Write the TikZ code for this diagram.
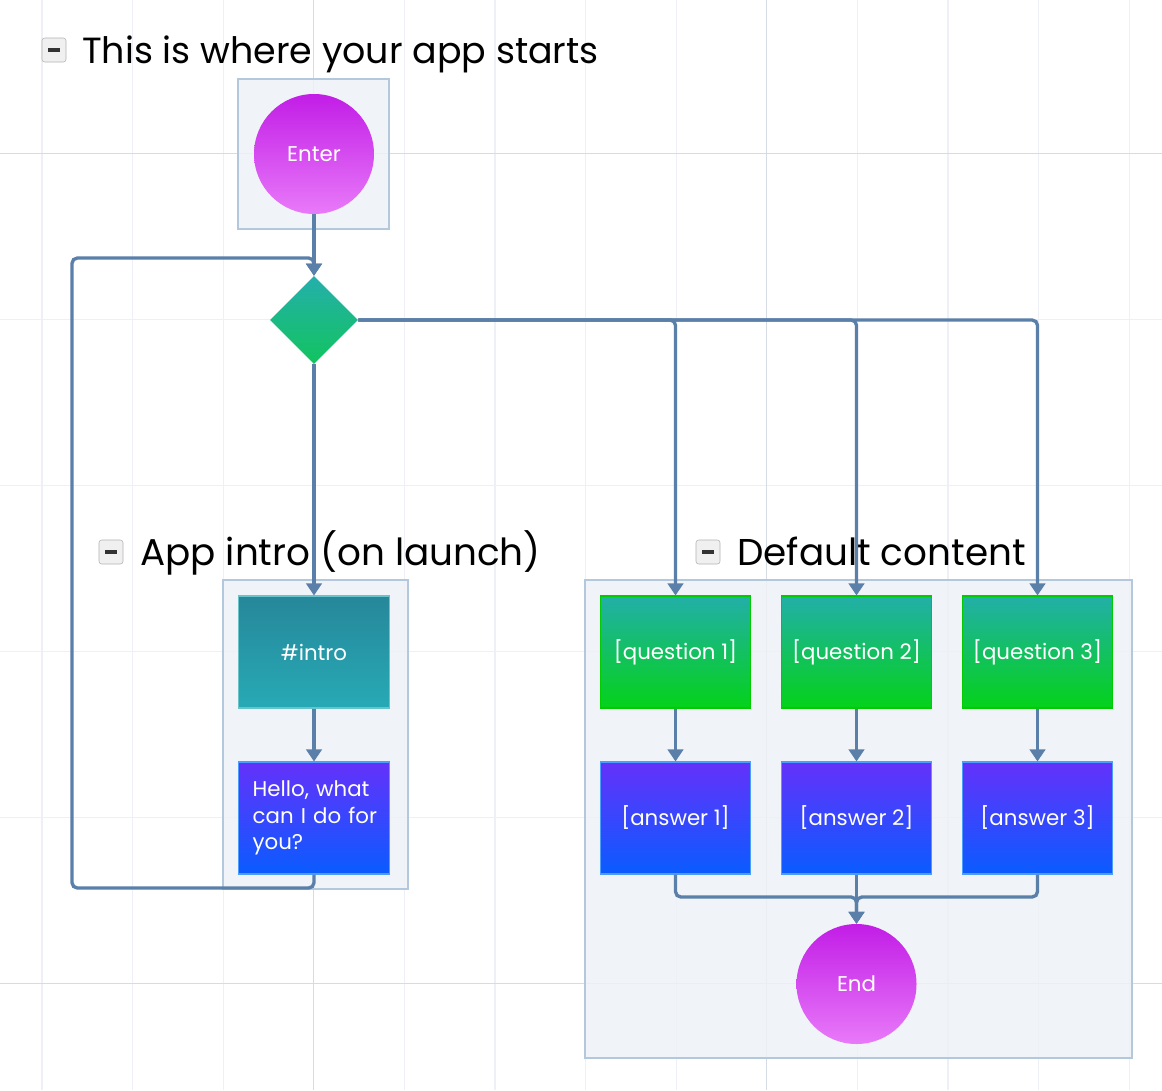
\documentclass[tikz,border=0pt]{standalone}
\usepackage{fontspec}
\setmainfont{Poppins}
\usetikzlibrary{arrows.meta,calc,shapes.geometric}
\definecolor{wire}{HTML}{5A7FA8}
\definecolor{gridmin}{HTML}{EDF1F6}
\definecolor{gridmaj}{HTML}{D6DCE3}
\definecolor{grpfill}{HTML}{EEF2F6}
\definecolor{grpline}{HTML}{B3C8DD}
\definecolor{termtop}{HTML}{C21DE6}
\definecolor{termbot}{HTML}{E87AF9}
\definecolor{gatetop}{HTML}{24AFAB}
\definecolor{gatebot}{HTML}{12C45E}
\definecolor{introtop}{HTML}{26879A}
\definecolor{introbot}{HTML}{27AAB5}
\definecolor{qtop}{HTML}{22AFA8}
\definecolor{qbot}{HTML}{04D21A}
\definecolor{atop}{HTML}{6431FA}
\definecolor{abot}{HTML}{0A5CFF}
\tikzset{link/.style={wire, line width=2.5pt, rounded corners=4pt, -{Triangle[length=9pt,width=11.5pt]}},
  grp/.style={draw=grpline, fill=grpfill, fill opacity=0.85, line width=0.8pt},
  hdr/.style={anchor=base west, inner sep=0pt, font=\fontsize{28}{32}\selectfont, text=black},
  fold/.style={draw=black!30, fill=black!6, rounded corners=2pt, minimum size=18pt, inner sep=0pt},
  card/.style={minimum width=113pt, minimum height=84pt, inner sep=0pt, text=white, font=\fontsize{16}{20}\selectfont},
  qbox/.style={card, top color=qtop, bottom color=qbot, draw=green!80!black, line width=0.8pt},
  abox/.style={card, top color=atop, bottom color=abot, draw=blue!55!cyan!70, line width=0.8pt},
  ibox/.style={card, top color=introtop, bottom color=introbot, draw=introbot!70!white, line width=0.8pt},
  term/.style={circle, minimum size=90pt, inner sep=0pt, text=white, font=\fontsize{16}{20}\selectfont,
    top color=termtop, bottom color=termbot},
  gate/.style={diamond, minimum size=66pt, inner sep=0pt, top color=gatetop, bottom color=gatebot}}

\begin{document}
\begin{tikzpicture}[x=0.75pt, y=-0.75pt]
  \useasboundingbox (0,0) rectangle (1162,1090);
  \fill[white] (0,0) rectangle (1162,1090);
  % grid
  \foreach \i in {0,...,12}
    \draw[gridmin, line width=0.9pt] ({42+90.6*\i},0) -- ++(0,1090);
  \foreach \j in {0,...,5}
    \draw[gridmin, line width=0.9pt] (0,{153.5+166*\j}) -- ++(1162,0);
  \draw[gridmaj, line width=0.9pt] (313.8,0) -- ++(0,1090) (766.8,0) -- ++(0,1090);
  \draw[gridmaj, line width=0.9pt] (0,153.5) -- ++(1162,0) (0,983.5) -- ++(1162,0);

  % groups
  \draw[grp] (238,79) rectangle (389,229);
  \draw[grp] (223,580) rectangle (408,889);
  \draw[grp] (585,580) rectangle (1132,1058);
  \node[fold] (f1) at (54,50) {\color{black!80}\rule{8.5pt}{2.4pt}};
  \node[hdr, font=\fontsize{27.3}{32}\selectfont] (t1) at (82,63) {This is where your app starts};
  \node[fold] (f2) at (111,552) {\color{black!80}\rule{8.5pt}{2.4pt}};
  \node[hdr] (t2) at (140,565) {App intro (on launch)};
  \node[fold] (f3) at (708,552) {\color{black!80}\rule{8.5pt}{2.4pt}};
  \node[hdr] (t3) at (737,565) {Default content};

  % nodes
  \node[term] (enter) at (314,154) {Enter};
  \node[gate] (gate) at (314,320) {};
  \node[ibox] (intro) at (314,652) {\#intro};
  \node[abox, align=left, text width=92pt] (hello) at (314,818)
    {\mbox{Hello, what}\\\mbox{can I do for}\\\mbox{you?}};
  \foreach \k/\x in {1/675.5,2/856.5,3/1037.5} {
    \node[qbox] (q\k) at (\x,652) {[question \k]};
    \node[abox] (a\k) at (\x,818) {[answer \k]};
  }
  \node[term] (done) at (856.5,984) {End};

  % links
  \coordinate (back) at (72,888);
  \coordinate (gtop) at (314,258);
  \coordinate (join) at (856.5,897);
  \draw[link] (enter) -- (gate);
  \draw[link] (hello.south) |- (back) |- (gtop) -- (gate.north);
  \draw[link] (gate) -- (intro);
  \draw[link] (intro) -- (hello);
  \foreach \k in {1,2,3} {
    \draw[link] (gate.east) -| (q\k.north);
    \draw[link] (q\k) -- (a\k);
  }
  \draw[link] (a1.south) |- (join) -- (done.north);
  \draw[link] (a3.south) |- (join) -- (done.north);
  \draw[link] (a2) -- (done);
\end{tikzpicture}
\end{document}
